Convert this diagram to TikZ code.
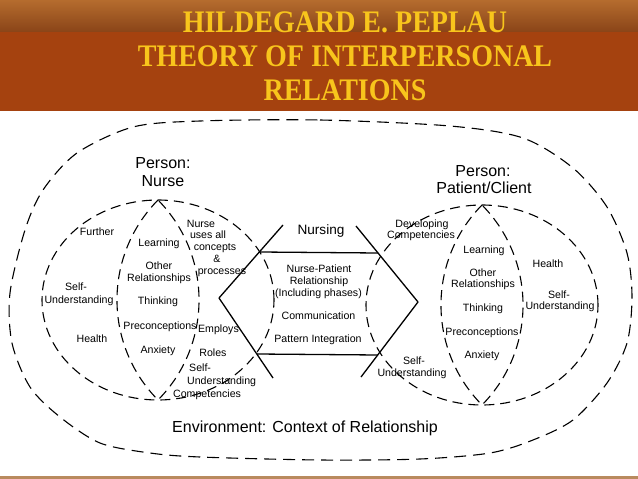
\documentclass[tikz,border=0pt]{standalone}
\usepackage{fontspec}
\setmainfont{Liberation Sans}
\newfontfamily\titlefont{Liberation Serif}
\definecolor{hdrtop}{HTML}{B56C2E}
\definecolor{hdrmid}{HTML}{8A4418}
\definecolor{hdrband}{HTML}{A5420F}
\definecolor{titleyellow}{HTML}{F8C51C}
\definecolor{footline}{HTML}{B98A5E}
\begin{document}
\begin{tikzpicture}[x=1pt,y=-1pt,
  lab/.style={anchor=base,inner sep=0pt,font=\fontsize{10.6}{12}\selectfont},
  labw/.style={lab,anchor=base west},
  biglab/.style={anchor=base,inner sep=0pt,font=\fontsize{16}{18}\selectfont},
  envdash/.style={line width=1.1pt,dash pattern=on 12pt off 7pt},
  circdash/.style={line width=1.1pt,dash pattern=on 10pt off 6pt},
  hexline/.style={line width=1.3pt},
  titletext/.style={text=titleyellow,inner sep=0pt,font=\titlefont\bfseries\fontsize{28}{34}\selectfont}]
\useasboundingbox (0,0) rectangle (638,479);
\fill[white] (0,0) rectangle (638,479);
% header
\shade[top color=hdrtop,bottom color=hdrmid] (0,0) rectangle (638,32);
\fill[hdrband] (0,32) rectangle (638,111);
\fill[footline] (0,476) rectangle (638,479);
\node[titletext] (t1) at (345,22) {\scalebox{1}[1.12]{HILDEGARD E. PEPLAU}};
\node[titletext] (t2) at (345,56) {\scalebox{1}[1.12]{THEORY OF INTERPERSONAL}};
\node[titletext] (t3) at (345,90) {\scalebox{1}[1.12]{RELATIONS}};
% environment
\draw[envdash] plot[smooth cycle,tension=0.5] coordinates {(200,121) (320,120) (450,126) (523,138) (573,168) (607,207) (627,253) (632,297) (627,343) (607,383) (573,420) (533,440) (490,453) (420,459) (320,460) (200,457) (150,453) (100,443) (60,417) (30,387) (12,343) (10,293) (25,230) (43,190) (77,153) (133,127)};
% nurse person
\coordinate (nC) at (158,300);
\coordinate (nTop) at (158,200);
\coordinate (nBot) at (158,400);
\draw[circdash] (nC) ellipse [x radius=116pt,y radius=100pt];
\draw[circdash] (nTop) .. controls (103.3,255.5) and (103.3,344.5) .. (nBot) .. controls (212.7,344.5) and (212.7,255.5) .. (nTop);
% patient person
\coordinate (pC) at (482,305);
\coordinate (pTop) at (482,205);
\coordinate (pBot) at (482,405);
\draw[circdash] (pC) ellipse [x radius=116pt,y radius=100pt];
\draw[circdash] (pTop) .. controls (427.3,260.5) and (427.3,349.5) .. (pBot) .. controls (536.7,349.5) and (536.7,260.5) .. (pTop);
% hexagon
\coordinate (hL) at (219,298);
\coordinate (hTL) at (260,252);
\coordinate (hTR) at (378,253);
\coordinate (hR) at (418,302);
\coordinate (hBR) at (378,355);
\coordinate (hBL) at (257,354);
\coordinate (eTL) at (283,225);
\coordinate (eBL) at (273,378);
\coordinate (eTR) at (356,226);
\coordinate (eBR) at (361,377);
\draw[hexline] (hTL) -- (hTR);
\draw[hexline] (hBL) -- (hBR);
\draw[hexline] (hL) -- (eTL);
\draw[hexline] (hL) -- (eBL);
\draw[hexline] (hR) -- (eTR);
\draw[hexline] (hR) -- (eBR);
% nurse labels
\node[biglab] (nP1) at (163,168) {Person:};
\node[biglab] (nP2) at (163,186) {Nurse};
\node[lab] (nFur) at (97,235) {Further};
\node[lab] (nLea) at (159,246) {Learning};
\node[lab] (nOth) at (159,269) {Other};
\node[lab] (nRel) at (159,281) {Relationships};
\node[lab] (nSelf) at (76,290) {Self-};
\node[lab] (nUnd) at (79,303) {Understanding};
\node[lab] (nThi) at (158,304) {Thinking};
\node[lab] (nU1) at (201,227) {Nurse};
\node[lab] (nU2) at (208,238) {uses all};
\node[lab] (nU3) at (215,250) {concepts};
\node[lab] (nU4) at (217,262) {\&};
\node[lab] (nU5) at (222,274) {processes};
\node[lab] (nPre) at (160,329) {Preconceptions};
\node[lab] (nEmp) at (218.5,332) {Employs};
\node[lab] (nHea) at (92,342) {Health};
\node[lab] (nAnx) at (158,353) {Anxiety};
\node[lab] (nRol) at (213,356) {Roles};
\node[labw] (nS2) at (189,371) {Self-};
\node[labw] (nU6) at (187,384) {Understanding};
\node[labw] (nCom) at (173,397) {Competencies};
% center labels
\node[anchor=base,inner sep=0pt,font=\fontsize{13.6}{15}\selectfont] (cNur) at (321,234) {Nursing};
\node[lab] (cNP) at (319,272) {Nurse-Patient};
\node[lab] (cRel) at (319,284) {Relationship};
\node[lab] (cInc) at (318.5,296) {(Including phases)};
\node[lab] (cCom) at (318.5,319) {Communication};
\node[lab] (cPat) at (318,342) {Pattern Integration};
% patient labels
\node[biglab] (pP1) at (483,176) {Person:};
\node[biglab] (pP2) at (484,193) {Patient/Client};
\node[lab] (pDev) at (422,227) {Developing};
\node[lab] (pCom) at (421,238) {Competencies};
\node[lab] (pLea) at (484,253) {Learning};
\node[lab] (pHea) at (548,267) {Health};
\node[lab] (pOth) at (483,276) {Other};
\node[lab] (pRel) at (483,287) {Relationships};
\node[lab] (pSelf) at (559,298) {Self-};
\node[lab] (pUnd) at (560,309) {Understanding};
\node[lab] (pThi) at (483,311) {Thinking};
\node[lab] (pPre) at (482,335) {Preconceptions};
\node[lab] (pAnx) at (482,358) {Anxiety};
\node[lab] (pS2) at (414,364) {Self-};
\node[lab] (pU2) at (412,376) {Understanding};
% environment label
\node[anchor=base,inner sep=0pt,font=\fontsize{16}{18}\selectfont] (env) at (305,432) {Environment: Context of Relationship};
\end{tikzpicture}
\end{document}
